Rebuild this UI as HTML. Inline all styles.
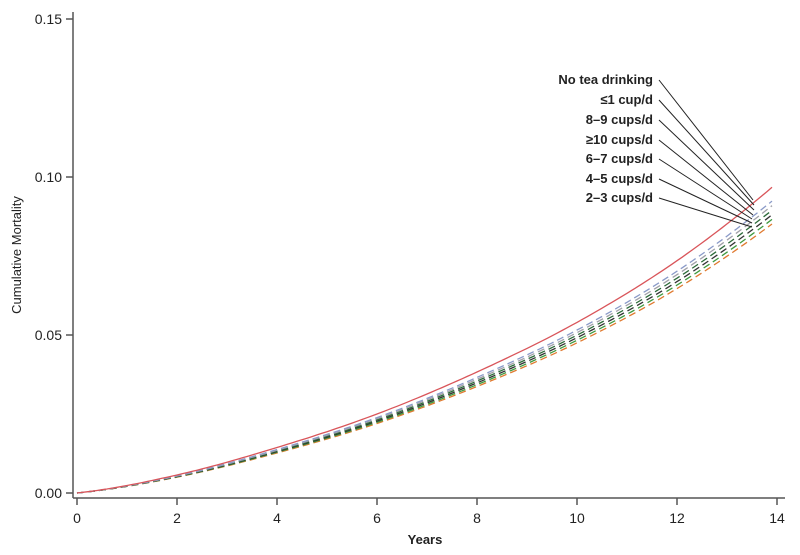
<!DOCTYPE html>
<html><head><meta charset="utf-8"><style>
body{margin:0;background:#fff}
svg text{font-family:"Liberation Sans",sans-serif;fill:#222}
</style></head><body>
<svg id="s" width="800" height="550" viewBox="0 0 800 550" xmlns="http://www.w3.org/2000/svg">
<g stroke="#555" stroke-width="1.5" fill="none">
<line x1="73" y1="12" x2="73" y2="498"/>
<line x1="73" y1="498" x2="785" y2="498"/>
<line x1="66" y1="19" x2="73" y2="19"/><line x1="66" y1="177" x2="73" y2="177"/>
<line x1="66" y1="335" x2="73" y2="335"/><line x1="66" y1="493" x2="73" y2="493"/>
<line x1="77" y1="498" x2="77" y2="505"/><line x1="177" y1="498" x2="177" y2="505"/>
<line x1="277" y1="498" x2="277" y2="505"/><line x1="377" y1="498" x2="377" y2="505"/>
<line x1="477" y1="498" x2="477" y2="505"/><line x1="577" y1="498" x2="577" y2="505"/>
<line x1="677" y1="498" x2="677" y2="505"/><line x1="777" y1="498" x2="777" y2="505"/>
</g>
<g font-size="14" text-anchor="end">
<text x="62" y="24">0.15</text><text x="62" y="182">0.10</text>
<text x="62" y="340">0.05</text><text x="62" y="498">0.00</text>
</g>
<g font-size="14" text-anchor="middle">
<text x="77" y="523">0</text><text x="177" y="523">2</text><text x="277" y="523">4</text>
<text x="377" y="523">6</text><text x="477" y="523">8</text><text x="577" y="523">10</text>
<text x="677" y="523">12</text><text x="777" y="523">14</text>
</g>
<text x="425" y="544" font-size="13" font-weight="bold" text-anchor="middle">Years</text>
<text transform="translate(21,255) rotate(-90)" font-size="13" text-anchor="middle">Cumulative Mortality</text>
<g id="curves" fill="none"></g>
<g font-size="13" font-weight="bold" text-anchor="end">
<text x="653" y="84">No tea drinking</text>
<text x="653" y="104">≤1 cup/d</text>
<text x="653" y="124">8–9 cups/d</text>
<text x="653" y="144">≥10 cups/d</text>
<text x="653" y="163">6–7 cups/d</text>
<text x="653" y="183">4–5 cups/d</text>
<text x="653" y="202">2–3 cups/d</text>
</g>
<g stroke="#222" stroke-width="1">
<line x1="659" y1="80" x2="753" y2="200"/>
<line x1="659" y1="100" x2="754" y2="205"/>
<line x1="659" y1="120" x2="754" y2="210"/>
<line x1="659" y1="140" x2="753" y2="215"/>
<line x1="659" y1="159" x2="752" y2="219"/>
<line x1="659" y1="179" x2="752" y2="223"/>
<line x1="659" y1="198" x2="752" y2="227"/>
</g>
</svg>
<script>
var T=[0,2,4,6,8,10,12,13.92];
var V=[0,0.0057,0.0144,0.0250,0.0383,0.0540,0.0735,0.097];
var n=T.length,M=[];
for(var i=0;i<n;i++){
 if(i==0)M.push((V[1]-V[0])/(T[1]-T[0])*0.6);
 else if(i==n-1)M.push((V[i]-V[i-1])/(T[i]-T[i-1])*1.1);
 else M.push((V[i+1]-V[i-1])/(T[i+1]-T[i-1]));
}
function f(t){
 for(var i=1;i<n;i++){if(t<=T[i]){var h=T[i]-T[i-1],u=(t-T[i-1])/h,u2=u*u,u3=u2*u;
  return (2*u3-3*u2+1)*V[i-1]+(u3-2*u2+u)*h*M[i-1]+(-2*u3+3*u2)*V[i]+(u3-u2)*h*M[i];}}
 return V[n-1];
}
var g=document.getElementById('curves');
var series=[[1,'#d9555a',''],[0.955,'#8a9ac8','7,4'],[0.94,'#a0a0a8','7,4'],[0.925,'#2d6b3a','7,4'],[0.91,'#333','7,4'],[0.895,'#3f9a40','7,4'],[0.88,'#e07a30','7,4']];
for(var i=series.length-1;i>=0;i--){var s=series[i],pts=[];
for(var t=0;t<=13.9001;t+=0.1){var v=s[0]*f(t);pts.push((77+t*50).toFixed(1)+','+(493-v*3160).toFixed(1));}
var p=document.createElementNS('http://www.w3.org/2000/svg','polyline');
p.setAttribute('points',pts.join(' '));p.setAttribute('stroke',s[1]);p.setAttribute('stroke-width','1.3');
if(s[2])p.setAttribute('stroke-dasharray',s[2]);g.appendChild(p);}
</script>
</body></html>
